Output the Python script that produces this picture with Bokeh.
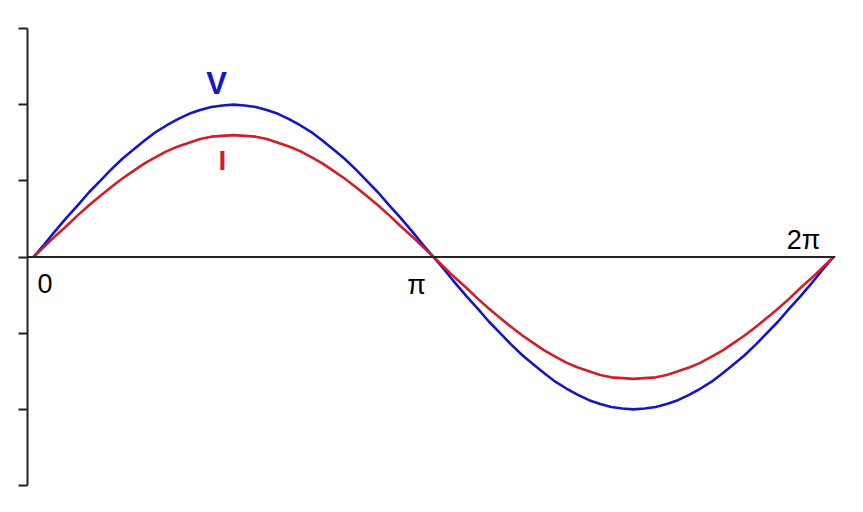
import numpy as np
from bokeh.plotting import figure
from bokeh.models import ColumnDataSource, LinearAxis, FixedTicker, Span
from bokeh.core.properties import value
from bokeh.embed import file_html
from bokeh.resources import INLINE

# phase in degrees (one full cycle, 5 degree steps)
phase_deg = list(range(0, 365, 5))
# values (1 unit = 1 y tick); first quarter, mirrored by symmetry of the drawn wave
v_quarter = [0.0, 0.17, 0.35, 0.52, 0.68, 0.85, 1.0, 1.15, 1.29, 1.41, 1.53, 1.64, 1.73, 1.81, 1.88, 1.93, 1.97, 1.99, 2.0]
i_quarter = [0.0, 0.14, 0.28, 0.41, 0.55, 0.68, 0.8, 0.92, 1.03, 1.13, 1.23, 1.31, 1.39, 1.45, 1.5, 1.55, 1.58, 1.59, 1.6]

voltage = v_quarter + v_quarter[-2::-1] + [-v for v in v_quarter[1:]] + [-v for v in v_quarter[-2::-1]]
current = i_quarter + i_quarter[-2::-1] + [-v for v in i_quarter[1:]] + [-v for v in i_quarter[-2::-1]]

x_tick_values = [0.0, np.pi, 2 * np.pi]
x_tick_labels = ["0", "π", "2π"]
y_ticks = [-3, -2, -1, 0, 1, 2, 3]

series_names = ["V", "I"]
series_label_at = [np.pi / 2, np.pi / 2]
series_label_y = [2.0, 1.6]

BLUE = "#1414c8"
RED = "#d21e28"

x = np.deg2rad(phase_deg)

p = figure(width=855, height=504, output_backend="svg", toolbar_location=None,
           x_range=(-0.0471, 6.299), y_range=(-3, 3),
           min_border_left=27, min_border_right=20, min_border_top=28, min_border_bottom=19,
           x_axis_location=None, y_axis_location=None)
p.outline_line_color = None
p.grid.visible = False
p.background_fill_color = "white"

yaxis = LinearAxis(ticker=FixedTicker(ticks=y_ticks))
yaxis.axis_line_color = "#222222"
yaxis.axis_line_width = 2
yaxis.major_tick_line_color = "#222222"
yaxis.major_tick_line_width = 2
yaxis.major_tick_out = 9
yaxis.major_tick_in = 0
yaxis.minor_tick_line_color = None
yaxis.major_label_overrides = {t: "" for t in y_ticks}
yaxis.major_label_standoff = 0
p.add_layout(yaxis, "left")

p.add_layout(Span(location=0, dimension="width", line_color="#222222", line_width=2))

p.line(x, voltage, line_color=BLUE, line_width=2.6)
p.line(x, current, line_color=RED, line_width=2.6)

tick_src = ColumnDataSource(dict(
    x=x_tick_values, y=[0, 0, 0], text=x_tick_labels,
    xo=[4, -17, -30], yo=[17, 13, -17],
    align=["left", "center", "center"], base=["top", "top", "alphabetic"]))
p.text(x="x", y="y", text="text", source=tick_src, x_offset="xo", y_offset="yo",
       text_align="align", text_baseline="base", text_font=value("Liberation Sans"),
       text_font_size="27px", text_color="black")

lab_src = ColumnDataSource(dict(
    x=series_label_at, y=series_label_y, text=series_names,
    xo=[-17, -11], yo=[-21, 10], color=[BLUE, RED],
    base=["alphabetic", "top"], size=["31px", "28px"]))
p.text(x="x", y="y", text="text", source=lab_src, x_offset="xo", y_offset="yo",
       text_align="center", text_baseline="base", text_font=value("Liberation Sans"),
       text_font_style="bold", text_font_size="size", text_color="color")

open("out.html", "w").write(file_html(p, INLINE))
